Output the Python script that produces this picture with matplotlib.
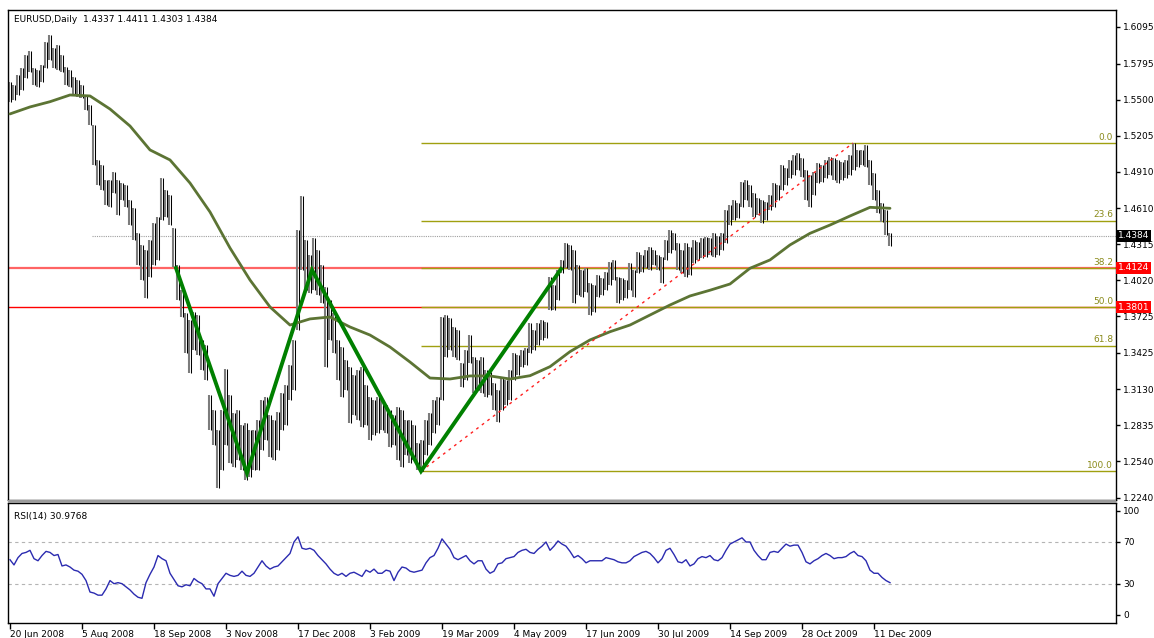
import matplotlib
matplotlib.use("Agg")
import matplotlib.pyplot as plt
import matplotlib.transforms as mtransforms
from matplotlib.patches import Rectangle

# ---------------- data ----------------
symbol_title = "EURUSD,Daily  1.4337 1.4411 1.4303 1.4384"
rsi_title = "RSI(14) 30.9768"

date_labels = ["20 Jun 2008", "5 Aug 2008", "18 Sep 2008", "3 Nov 2008", "17 Dec 2008",
               "3 Feb 2009", "19 Mar 2009", "4 May 2009", "17 Jun 2009", "30 Jul 2009",
               "14 Sep 2009", "28 Oct 2009", "11 Dec 2009"]
date_label_bars = [0, 18, 36, 54, 72, 90, 108, 126, 144, 162, 180, 198, 216]

price_ticks = [1.6095, 1.5795, 1.5500, 1.5205, 1.4910, 1.4610, 1.4315, 1.4020,
               1.3725, 1.3425, 1.3130, 1.2835, 1.2540, 1.2240]

highs = [
    1.5644, 1.5620, 1.5702, 1.5759, 1.5866, 1.5898, 1.5759, 1.5743, 1.5784, 1.5972,
    1.6029, 1.5923, 1.5947, 1.5866, 1.5767, 1.5743, 1.5685, 1.5661, 1.5620, 1.5538,
    1.5456, 1.5292, 1.5006, 1.4965, 1.4842, 1.4842, 1.4907, 1.4842, 1.4817, 1.4801,
    1.4678, 1.4612, 1.4408, 1.4309, 1.4268, 1.4350, 1.4490, 1.4539, 1.4858, 1.4760,
    1.4719, 1.4449, 1.4146, 1.3941, 1.3753, 1.3695, 1.3761, 1.3736, 1.3531, 1.3490,
    1.3081, 1.2958, 1.2794, 1.2958, 1.3294, 1.3081, 1.2934, 1.2958, 1.2835, 1.2852,
    1.2794, 1.2794, 1.2876, 1.3040, 1.3065, 1.2917, 1.2876, 1.2942, 1.3097, 1.3163,
    1.3327, 1.3531, 1.4432, 1.4711, 1.4350, 1.4228, 1.4367, 1.4268, 1.4146, 1.3965,
    1.3859, 1.3753, 1.3531, 1.3474, 1.3368, 1.3310, 1.3245, 1.3286, 1.3310, 1.3163,
    1.3065, 1.3040, 1.3065, 1.3040, 1.2999, 1.2958, 1.2917, 1.2983, 1.2958, 1.2876,
    1.2876, 1.2835, 1.2688, 1.2712, 1.2876, 1.2934, 1.3040, 1.3065, 1.3720, 1.3736,
    1.3712, 1.3638, 1.3613, 1.3343, 1.3449, 1.3572, 1.3392, 1.3368, 1.3392, 1.3286,
    1.3269, 1.3179, 1.3122, 1.3228, 1.3204, 1.3286, 1.3425, 1.3409, 1.3449, 1.3466,
    1.3671, 1.3613, 1.3671, 1.3695, 1.3679, 1.4047, 1.3982, 1.4105, 1.4187, 1.4326,
    1.4309, 1.4268, 1.4146, 1.4105, 1.4121, 1.3998, 1.3982, 1.4064, 1.4039, 1.4088,
    1.4170, 1.4187, 1.4047, 1.4039, 1.4023, 1.4162, 1.4105, 1.4252, 1.4228, 1.4268,
    1.4293, 1.4268, 1.4228, 1.4211, 1.4350, 1.4432, 1.4408, 1.4326, 1.4268, 1.4326,
    1.4293, 1.4350, 1.4334, 1.4367, 1.4375, 1.4367, 1.4408, 1.4383, 1.4408, 1.4596,
    1.4637, 1.4678, 1.4653, 1.4825, 1.4842, 1.4801, 1.4735, 1.4694, 1.4678, 1.4662,
    1.4719, 1.4817, 1.4801, 1.4965, 1.4940, 1.5006, 1.5047, 1.5063, 1.5022, 1.4924,
    1.4883, 1.4907, 1.4981, 1.4965, 1.5006, 1.5030, 1.5022, 1.5006, 1.4989, 1.5006,
    1.5047, 1.5144, 1.5087, 1.5087, 1.5128, 1.5006, 1.4899, 1.4760, 1.4653, 1.4596,
    1.4411]

lows = [
    1.5481, 1.5497, 1.5538, 1.5579, 1.5677, 1.5726, 1.5620, 1.5603, 1.5644, 1.5759,
    1.5825, 1.5759, 1.5743, 1.5726, 1.5620, 1.5603, 1.5538, 1.5522, 1.5513, 1.5415,
    1.5292, 1.4965, 1.4801, 1.4760, 1.4637, 1.4621, 1.4735, 1.4555, 1.4678, 1.4621,
    1.4473, 1.4350, 1.4146, 1.4023, 1.3875, 1.4047, 1.4146, 1.4187, 1.4514, 1.4539,
    1.4473, 1.4129, 1.3859, 1.3720, 1.3425, 1.3261, 1.3449, 1.3409, 1.3286, 1.3204,
    1.2794, 1.2671, 1.2319, 1.2467, 1.2671, 1.2524, 1.2491, 1.2549, 1.2467, 1.2385,
    1.2409, 1.2467, 1.2467, 1.2630, 1.2712, 1.2573, 1.2549, 1.2630, 1.2794, 1.2835,
    1.3040, 1.3122, 1.3613, 1.4105, 1.3941, 1.3916, 1.3941, 1.3900, 1.3834, 1.3310,
    1.3531, 1.3425, 1.3204, 1.3065, 1.3122, 1.2852, 1.2917, 1.2876, 1.2819, 1.2835,
    1.2712, 1.2753, 1.2770, 1.2794, 1.2770, 1.2655, 1.2671, 1.2549, 1.2491, 1.2590,
    1.2524, 1.2549, 1.2467, 1.2457, 1.2590, 1.2671, 1.2770, 1.2835, 1.3040, 1.3392,
    1.3449, 1.3392, 1.3368, 1.3146, 1.3204, 1.3343, 1.3097, 1.3122, 1.3097, 1.3065,
    1.3081, 1.2958, 1.2860, 1.2958, 1.2999, 1.3040, 1.3204, 1.3245, 1.3310, 1.3327,
    1.3425, 1.3449, 1.3490, 1.3531, 1.3548, 1.3777, 1.3777, 1.3859, 1.4080, 1.4121,
    1.4105, 1.3834, 1.3900, 1.3884, 1.3925, 1.3736, 1.3761, 1.3884, 1.3900, 1.3941,
    1.3982, 1.4023, 1.3834, 1.3859, 1.3875, 1.3941, 1.3884, 1.4080, 1.4088, 1.4121,
    1.4105, 1.4146, 1.4105, 1.3998, 1.4187, 1.4244, 1.4268, 1.4105, 1.4080, 1.4047,
    1.4064, 1.4162, 1.4187, 1.4203, 1.4211, 1.4228, 1.4211, 1.4228, 1.4268, 1.4326,
    1.4473, 1.4514, 1.4531, 1.4621, 1.4678, 1.4621, 1.4539, 1.4555, 1.4490, 1.4514,
    1.4596, 1.4621, 1.4678, 1.4760, 1.4801, 1.4858, 1.4883, 1.4924, 1.4866, 1.4678,
    1.4621, 1.4719, 1.4817, 1.4825, 1.4858, 1.4883, 1.4842, 1.4817, 1.4842, 1.4858,
    1.4883, 1.4924, 1.4948, 1.4965, 1.4948, 1.4801, 1.4678, 1.4572, 1.4498, 1.4391,
    1.4303]

# moving average, one value every 5 bars
ma_bars = list(range(0, 221, 5))
ma_values = [
    1.5383, 1.5440, 1.5483, 1.5538, 1.5530, 1.5423, 1.5284, 1.5088, 1.5006, 1.4817,
    1.4580, 1.4285, 1.4023, 1.3802, 1.3654, 1.3704, 1.3720, 1.3638, 1.3572, 1.3474,
    1.3351, 1.3220, 1.3212, 1.3237, 1.3237, 1.3212, 1.3239, 1.3313, 1.3436, 1.3532,
    1.3599, 1.3654, 1.3736, 1.3818, 1.3892, 1.3939, 1.3990, 1.4119, 1.4187, 1.4310,
    1.4405, 1.4473, 1.4547, 1.4618, 1.4610]

rsi = [
    53, 48, 55, 59, 60, 62, 54, 52, 57, 61,
    60, 57, 58, 47, 48, 46, 43, 42, 39, 33,
    22, 21, 19, 19, 25, 33, 30, 31, 30, 27,
    24, 20, 17, 16, 31, 39, 46, 57, 54, 52,
    40, 34, 28, 27, 29, 28, 35, 32, 30, 25,
    25, 18, 30, 35, 40, 38, 37, 38, 42, 38,
    37, 40, 46, 52, 47, 44, 46, 47, 51, 55,
    59, 70, 75, 64, 63, 64, 62, 57, 53, 49,
    44, 40, 38, 40, 37, 40, 41, 39, 37, 43,
    41, 44, 40, 40, 43, 42, 33, 41, 46, 45,
    42, 41, 42, 43, 50, 55, 57, 64, 73, 68,
    63, 55, 53, 55, 57, 52, 49, 52, 52, 44,
    40, 42, 49, 50, 54, 55, 56, 60, 62, 63,
    60, 59, 63, 66, 70, 62, 66, 71, 68, 66,
    61, 55, 57, 54, 50, 52, 52, 52, 52, 55,
    54, 53, 51, 50, 50, 52, 56, 58, 60, 61,
    59, 55, 50, 54, 62, 64, 58, 51, 50, 53,
    47, 49, 54, 56, 55, 57, 53, 52, 55, 62,
    68, 70, 72, 74, 70, 70, 62, 57, 53, 53,
    60, 61, 60, 64, 68, 66, 67, 67, 60, 51,
    49, 52, 54, 57, 59, 57, 54, 55, 55, 56,
    59, 61, 57, 56, 52, 43, 40, 40, 36, 33,
    30.9768]

# zigzag pivots (bar position, price)
zz_bars = [41.5, 59.25, 75.5, 102.75, 137.75]
zz_prices = [1.4121, 1.2442, 1.4105, 1.2457, 1.4113]

# fibonacci retracement
fib_low_bar, fib_low = 102.75, 1.2457
fib_high_bar, fib_high = 210.75, 1.5144
fib_levels = [0.0, 23.6, 38.2, 50.0, 61.8, 100.0]

last_price = 1.4384
last_line_start_bar = 20.5
hline_red1 = 1.4124
hline_red2 = 1.3801

n = len(highs)
assert len(lows) == n and len(rsi) == n, (len(highs), len(lows), len(rsi))
bars = list(range(n))

# ---------------- figure ----------------
W, H = 1154, 638
plt.rcParams['font.family'] = ['DejaVu Sans']
fs = 6.5
fig = plt.figure(figsize=(W / 100, H / 100), dpi=100)
fig.patch.set_facecolor('white')

ax = fig.add_axes([8 / W, 1 - 500 / H, 1108 / W, 490 / H])
ax2 = fig.add_axes([8 / W, 1 - 623 / H, 1108 / W, 120 / H])

XMIN, XMAX = -0.5, 276.5
ax.set_xlim(XMIN, XMAX)
ax.set_ylim(1.2221, 1.6234)
ax2.set_xlim(XMIN, XMAX)
ax2.set_ylim(-7.7, 107.4)

for a in (ax, ax2):
    for s in a.spines.values():
        s.set_color('black')
        s.set_linewidth(1.0)

# separator band between panels
fig.patches.append(Rectangle((8 / W, 1 - 503 / H), 1108 / W, 3 / H,
                             transform=fig.transFigure, fc='#9a9a9a', ec='none', zorder=5))

# price bars: a grey stroke with a black stroke beside it (dense MT4-like texture)
ax.vlines([b - 0.22 for b in bars], lows, highs, colors='#7c7c7c', linewidth=1.5, zorder=2)
ax.vlines([b + 0.25 for b in bars], lows, highs, colors='#000000', linewidth=0.75, zorder=2)

# moving average
ax.plot(ma_bars, ma_values, color='#5c7434', linewidth=2.0, zorder=3, solid_capstyle='round')

# horizontal red lines
ax.axhline(hline_red1, color='#ff6464', linewidth=1.6, zorder=1)
ax.axhline(hline_red2, color='#ff0000', linewidth=1.0, zorder=1)

# last price dotted line
ax.hlines(last_price, last_line_start_bar, XMAX, colors='#a0a0a0', linestyles=(0, (1, 1)),
          linewidth=0.8, zorder=1)

# fibonacci
rng = fib_high - fib_low
trans_lbl = mtransforms.blended_transform_factory(ax.transAxes, ax.transData)
for lv in fib_levels:
    p = fib_high - rng * lv / 100.0
    ax.hlines(p, fib_low_bar, XMAX, colors='#a0a010', linewidth=1.0, zorder=1)
    ax.text((1113 - 8) / 1108, p + 0.0012, f"{lv:.1f}", transform=trans_lbl,
            ha='right', va='bottom', fontsize=fs, color='#8a8a1a', zorder=6)
ax.plot([fib_low_bar, fib_high_bar], [fib_low, fib_high], color='#ff2020',
        linestyle=(0, (2, 3)), linewidth=1.0, zorder=3)

# zigzag
ax.plot(zz_bars, zz_prices, color='#008000', linewidth=2.8, zorder=4, solid_joinstyle='miter')

# price axis
ax.yaxis.tick_right()
ax.set_yticks(price_ticks)
ax.set_yticklabels([f"{p:.4f}" for p in price_ticks])
ax.tick_params(axis='y', direction='out', length=3, width=1, pad=2, labelsize=fs, colors='black')
ax.set_xticks([])

# price boxes
for p, fc in [(last_price, 'black'), (hline_red1, '#ff0000'), (hline_red2, '#ff0000')]:
    ax.text(1 + 2 / 1108, p, f"{p:.4f}", transform=trans_lbl, ha='left', va='center',
            fontsize=fs, color='white', clip_on=False, zorder=10,
            bbox=dict(boxstyle='square,pad=0.18', fc=fc, ec='none'))

# RSI panel
ax2.plot(bars, rsi, color='#2b2bb0', linewidth=1.0, zorder=3)
for lv in (70, 30):
    ax2.axhline(lv, color='#b4b4b4', linestyle=(0, (3, 3)), linewidth=0.8, zorder=1)
ax2.yaxis.tick_right()
ax2.set_yticks([100, 70, 30, 0])
ax2.set_yticklabels(['100', '70', '30', '0'])
ax2.tick_params(axis='y', direction='out', length=3, width=1, pad=2, labelsize=fs, colors='black')
ax2.set_xticks(date_label_bars)
ax2.set_xticklabels(date_labels, ha='left', fontsize=fs)
ax2.tick_params(axis='x', direction='out', length=4, width=1, pad=1, labelsize=fs, colors='black')
for lbl in ax2.get_xticklabels():
    lbl.set_horizontalalignment('left')

# titles
fig.text(14 / W, 1 - 19 / H, symbol_title, fontsize=fs, va='center', ha='left')
fig.text(14 / W, 1 - 516 / H, rsi_title, fontsize=fs, va='center', ha='left')

fig.savefig('out.png', dpi=100, facecolor='white')
